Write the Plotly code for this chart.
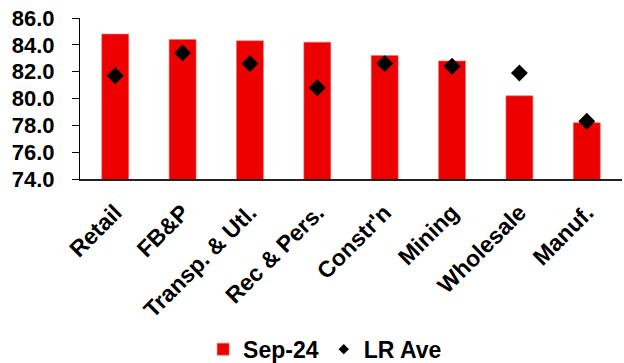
import plotly.graph_objects as go

# Sector values, Sep-24 versus long-run average
categories = ["Retail", "FB&P", "Transp. & Utl.", "Rec & Pers.", "Constr'n",
              "Mining", "Wholesale", "Manuf."]
sep24 = [84.8, 84.4, 84.3, 84.2, 83.2, 82.8, 80.2, 78.2]
lr_ave = [81.7, 83.4, 82.6, 80.8, 82.6, 82.4, 81.9, 78.3]
y_ticks = [74.0, 76.0, 78.0, 80.0, 82.0, 84.0, 86.0]

FONT = "Liberation Sans, Arial, sans-serif"
RED = "#EC0000"

fig = go.Figure()

fig.add_trace(go.Bar(
    x=categories, y=sep24, name="Sep-24",
    marker=dict(color=RED, line=dict(color="#F07070", width=0.6)),
    showlegend=True,
))
fig.add_trace(go.Scatter(
    x=categories, y=lr_ave, mode="markers", name="LR Ave",
    marker=dict(symbol="diamond", size=13, color="black"),
    showlegend=False,
))
# smaller diamond for the legend entry
fig.add_trace(go.Scatter(
    x=[None], y=[None], mode="markers", name="LR Ave",
    marker=dict(symbol="diamond", size=8, color="black"),
    showlegend=True,
))

fig.update_layout(
    width=624, height=363,
    margin=dict(l=80, r=2, t=18, b=184, autoexpand=False),
    paper_bgcolor="white", plot_bgcolor="white",
    bargap=0.6,
    font=dict(family=FONT, size=22, color="black", weight="bold"),
    legend=dict(orientation="h", x=0.521, xanchor="center", xref="container",
                y=0.038, yanchor="middle", yref="container",
                font=dict(family=FONT, size=23, color="black", weight="bold"),
                itemwidth=30, tracegroupgap=0, bgcolor="rgba(0,0,0,0)"),
    showlegend=True,
)

fig.update_yaxes(
    range=[74, 86], tickvals=y_ticks, ticktext=[f"{v:.1f}" for v in y_ticks],
    showgrid=False, zeroline=False, automargin=False,
    showline=True, linecolor="black", linewidth=1.2,
    ticks="outside", ticklen=7, tickcolor="black", tickwidth=1.2,
    ticklabelstandoff=13,
    tickfont=dict(family=FONT, size=22, color="black", weight="bold"),
)
fig.update_xaxes(
    showgrid=False, zeroline=False, automargin=False,
    showline=True, linecolor="#222222", linewidth=2,
    ticks="", tickangle=-45,
    ticklabelstandoff=9,
    tickfont=dict(family=FONT, size=23, color="black", weight="bold"),
)

fig.write_html("out.html")
